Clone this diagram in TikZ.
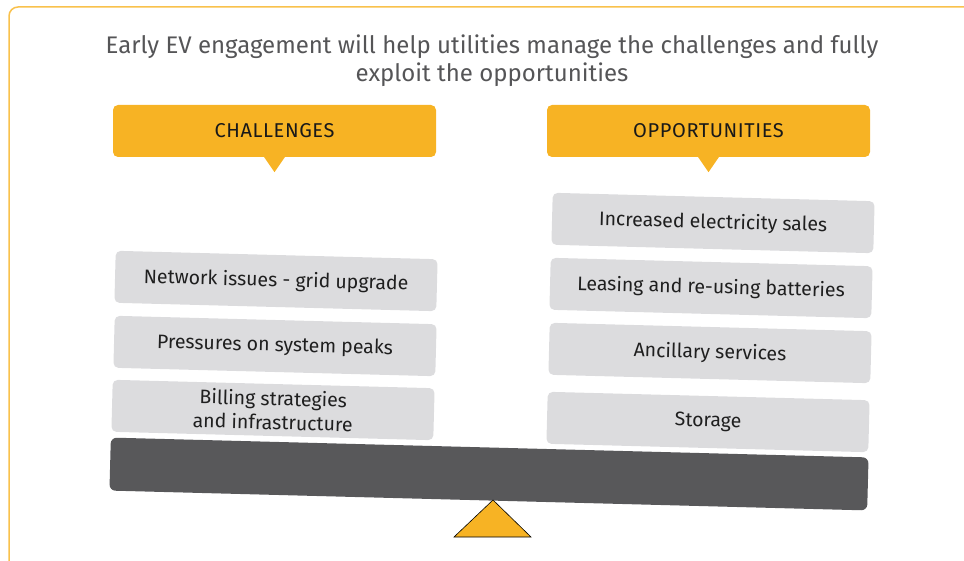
\documentclass[tikz,border=0pt]{standalone}
\usepackage{fontspec}
\usetikzlibrary{calc}
\setmainfont{Fira Sans}
\newfontfamily\dinfont{Fira Sans}
\newfontfamily\headfont[LetterSpace=3]{Fira Sans}
\definecolor{orng}{HTML}{F7B324}
\definecolor{framecol}{HTML}{F9C14C}
\definecolor{boxgray}{HTML}{DCDCDE}
\definecolor{beamgray}{HTML}{58585A}
\definecolor{titlegray}{HTML}{555557}
\tikzset{
  item/.style={fill=boxgray, rounded corners=5pt, minimum width=322pt, minimum height=52pt,
    rotate=-1.5, font=\dinfont\fontsize{19.5}{24}\selectfont, text=black!88, align=center, inner sep=0pt},
  head/.style={fill=orng, rounded corners=5pt, minimum width=323pt, minimum height=52pt,
    font=\headfont\fontsize{20}{24}\selectfont, text=black!90, inner sep=0pt},
  pointer/.style={fill=orng},
}
\begin{document}
\begin{tikzpicture}[x=1pt,y=-1pt]
\useasboundingbox (0,0) rectangle (964,561);
% frame
\draw[framecol, line width=1.5pt, rounded corners=9pt] (9,570) -- (9,7) -- (975,7);
% title
\node[font=\dinfont\fontsize{24}{28}\selectfont, text=titlegray, align=center, inner sep=0pt] (title) at (492,61)
  {Early EV engagement will help utilities manage the challenges and fully\\exploit the opportunities};
% headers
\node[head] (ch) at (274.5,131) {\raisebox{-2pt}{CHALLENGES}};
\node[head] (op) at (708.5,131) {\raisebox{-2pt}{OPPORTUNITIES}};
\fill[pointer] ($(ch.south)+(-11,-1)$) -- ($(ch.south)+(0,15)$) -- ($(ch.south)+(11,-1)$) -- cycle;
\fill[pointer] ($(op.south)+(-11,-1)$) -- ($(op.south)+(0,15)$) -- ($(op.south)+(11,-1)$) -- cycle;
% challenge items
\node[item] (c1) at (276,281) {Network issues - grid upgrade};
\node[item] (c2) at (275,346) {Pressures on system peaks};
\node[item] (c3) at (273,410) {Billing strategies\\and infrastructure};
% opportunity items
\node[item] (o1) at (713,223) {Increased electricity sales};
\node[item] (o2) at (711,288) {Leasing and re-using batteries};
\node[item] (o3) at (710,353) {Ancillary services};
\node[item] (o4) at (708,422) {Storage};
% beam
\node[fill=beamgray, rounded corners=6pt, minimum width=758pt, minimum height=53pt, rotate=-1.5, inner sep=0pt] (beam) at (489,474) {};
% fulcrum
\filldraw[fill=orng, draw=black, line width=0.6pt] (493,500) -- (531,537) -- (454,537) -- cycle;
\end{tikzpicture}
\end{document}
